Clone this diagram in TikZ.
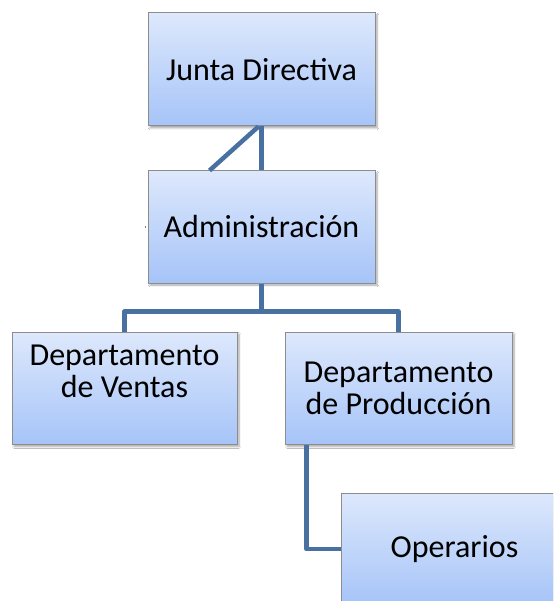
\documentclass[tikz,border=0pt]{standalone}
\usepackage{fontspec}
\setmainfont{Carlito}
\usetikzlibrary{shadows.blur,calc}
\definecolor{boxtop}{RGB}{221,232,252}
\definecolor{boxbot}{RGB}{166,196,248}
\definecolor{boxline}{RGB}{140,140,140}
\definecolor{conn}{RGB}{72,112,160}
\tikzset{
  orgbox/.style={draw=boxline, line width=1pt, top color=boxtop, bottom color=boxbot,
    minimum width=227pt, minimum height=113pt, align=center, inner sep=2pt,
    font=\fontsize{32}{32}\selectfont,
    blur shadow={shadow xshift=2pt, shadow yshift=-2pt, shadow blur steps=6, shadow opacity=35}},
  link/.style={draw=conn, line width=4.5pt, line join=round}
}
\begin{document}
\begin{tikzpicture}[x=1pt,y=-1pt]
\useasboundingbox (0,0) rectangle (553,601);
\clip (0,0) rectangle (553,601);
\fill[white] (0,0) rectangle (553,601);
\node[orgbox] (junta) at (261.5,69.5) {Junta Directiva};
\node[orgbox, minimum height=112pt] (admin) at (261.5,227) {Administración};
\node[orgbox, minimum width=225pt, minimum height=112pt, text depth=34pt] (ventas) at (124.5,388.5) {Departamento\\de Ventas};
\node[orgbox, minimum height=112pt] (prod) at (398.5,388.5) {Departamento\\de Producción};
\node[orgbox, minimum height=112pt, text width=200pt] (oper) at (454.5,549) {Operarios};
\coordinate (diag) at ($(admin.north west)+(62,0)$);
\coordinate (tick) at ($(admin.west)+(-2,-1)$);
\draw[link] (junta.south) -- (admin.north);
\draw[link] (junta.south) ++(-3,0) -- (diag);
\draw[link] (admin.south) -- ++(0,28) -| (ventas.north);
\draw[link] (admin.south) -- ++(0,28) -| (prod.north);
\draw[link] ($(prod.south west)+(22,0)$) |- (oper.west);
\draw[gray, line width=1pt] (tick) -- ++(0,2);
\end{tikzpicture}
\end{document}
